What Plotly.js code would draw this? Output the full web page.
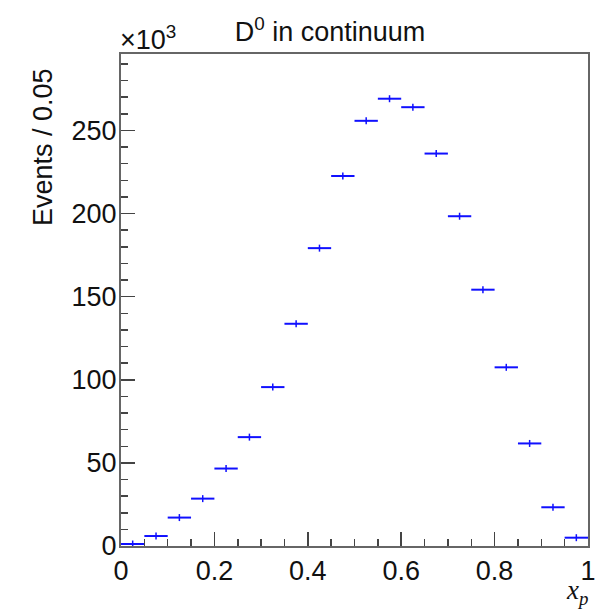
<!DOCTYPE html>
<html>
<head>
<meta charset="utf-8">
<script src="https://cdn.plot.ly/plotly-3.0.1.min.js"></script>
<style>html,body{margin:0;padding:0;background:#fff;}#chart{width:612px;height:609px;}</style>
</head>
<body>
<div id="chart"></div>
<script>
// x_p bin edges (bin width 0.05)
var binLow = [0.00,0.05,0.10,0.15,0.20,0.25,0.30,0.35,0.40,0.45,0.50,0.55,0.60,0.65,0.70,0.75,0.80,0.85,0.90,0.95];
var binWidth = 0.05;
// Events per bin, in units of 10^3
var eventsK = [1.2,6.0,17.1,28.5,46.6,65.5,95.6,133.7,179.2,222.6,255.8,269.1,264.0,236.1,198.4,154.2,107.5,61.7,23.3,5.0];
var yTickVals = [0,50,100,150,200,250];
var xTickVals = [0,0.2,0.4,0.6,0.8,1];
var xTickText = ['0','0.2','0.4','0.6','0.8','1'];

var xCenters = binLow.map(function(l){ return l + binWidth/2; });
var errX = binLow.map(function(){ return binWidth/2; });
var errY = eventsK.map(function(v){ return Math.sqrt(v*1000)/1000; });

var blue = '#1010ff';
var trace = {
  type: 'scatter', mode: 'markers',
  x: xCenters, y: eventsK,
  marker: {symbol: 'line-ns-open', size: 5, color: blue, line: {color: blue, width: 1.5}},
  error_x: {type: 'data', array: errX, visible: true, color: blue, thickness: 2, width: 0},
  error_y: {type: 'data', array: errY, visible: true, color: blue, thickness: 1.5, width: 0},
  hoverinfo: 'x+y', showlegend: false
};

var font = 'Liberation Sans, Arial, Helvetica, sans-serif';
var fs = 27;
var L = 121, R = 588.5, T = 54, B = 545.7;
var pw = R - L, ph = B - T;
function px2paperX(p){ return (p - L)/pw; }
function px2paperY(p){ return (B - p)/ph; }

var layout = {
  width: 612, height: 609,
  margin: {l: L, r: 612 - R, t: T, b: 609 - B, pad: 0},
  paper_bgcolor: '#fff', plot_bgcolor: '#fff',
  font: {family: font, size: fs, color: '#111'},
  title: {text: 'D<sup>0</sup> in continuum', xref: 'container', yref: 'container',
          x: 330/612, xanchor: 'center', y: 1 - 32/609, yanchor: 'middle',
          font: {family: font, size: fs, color: '#111'}},
  xaxis: {
    range: [0, 1], showgrid: false, zeroline: false,
    showline: true, linecolor: '#666', linewidth: 2, mirror: true,
    ticks: 'inside', ticklen: 14, tickwidth: 1.5, tickcolor: '#444',
    tickvals: xTickVals, ticktext: xTickText,
    tickfont: {family: font, size: fs, color: '#111'},
    minor: {ticks: 'inside', ticklen: 7, tickwidth: 1.5, tickcolor: '#444', dtick: 0.05, showgrid: false},
    fixedrange: true
  },
  yaxis: {
    range: [0, 296], showgrid: false, zeroline: false,
    showline: true, linecolor: '#666', linewidth: 2, mirror: true,
    ticks: 'inside', ticklen: 14, tickwidth: 1.5, tickcolor: '#444',
    tickvals: yTickVals,
    tickfont: {family: font, size: fs, color: '#111'},
    ticklabelstandoff: -3,
    minor: {ticks: 'inside', ticklen: 7, tickwidth: 1.5, tickcolor: '#444', dtick: 10, showgrid: false},
    fixedrange: true
  },
  annotations: [
    {text: 'Events / 0.05', xref: 'paper', yref: 'paper', x: px2paperX(43), y: px2paperY(66),
     xanchor: 'center', yanchor: 'top', textangle: -90, showarrow: false,
     font: {family: font, size: fs, color: '#111'}},
    {text: '×10<sup>3</sup>', xref: 'paper', yref: 'paper', x: px2paperX(118), y: px2paperY(57),
     xanchor: 'left', yanchor: 'bottom', showarrow: false,
     font: {family: font, size: fs, color: '#111'}},
    {text: '<i>x<sub>p</sub></i>', xref: 'paper', yref: 'paper', x: px2paperX(591), y: px2paperY(592),
     xanchor: 'right', yanchor: 'middle', showarrow: false,
     font: {family: 'Liberation Serif, Times New Roman, serif', size: 27, color: '#111'}}
  ]
};

Plotly.newPlot('chart', [trace], layout, {displayModeBar: false, staticPlot: true});
</script>
</body>
</html>
